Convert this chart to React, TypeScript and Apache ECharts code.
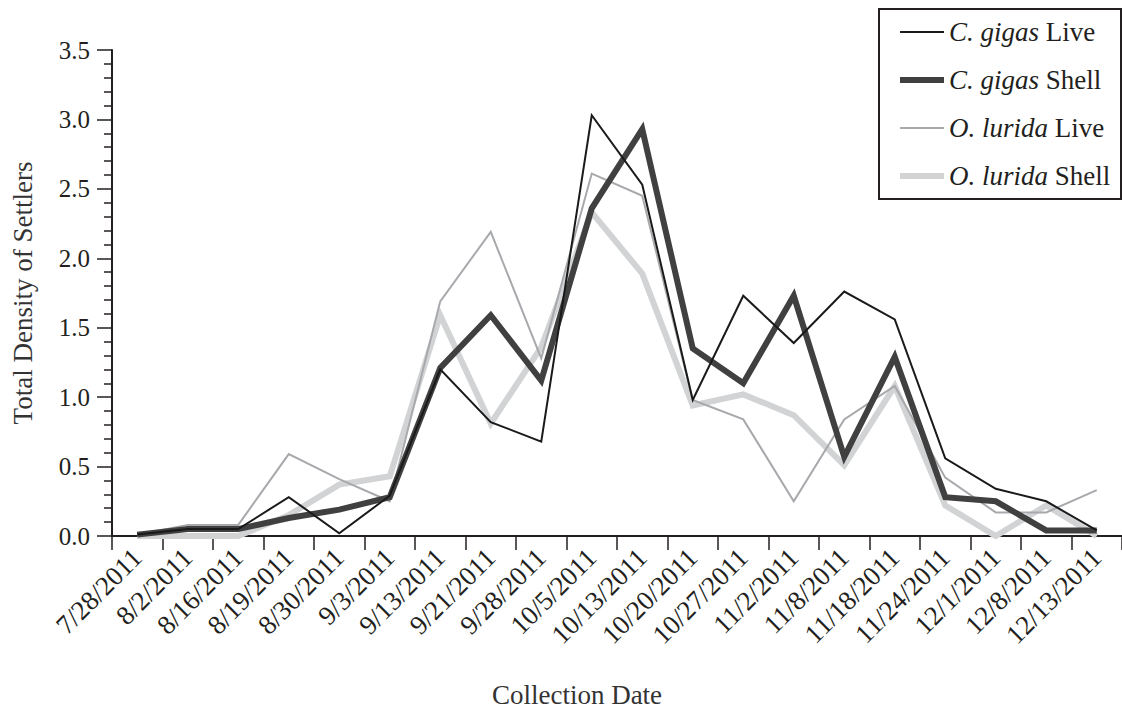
import React, { useEffect, useRef } from "react";
import * as echarts from "echarts";

const categories = [
  "7/28/2011", "8/2/2011", "8/16/2011", "8/19/2011", "8/30/2011", "9/3/2011",
  "9/13/2011", "9/21/2011", "9/28/2011", "10/5/2011", "10/13/2011", "10/20/2011",
  "10/27/2011", "11/2/2011", "11/8/2011", "11/18/2011", "11/24/2011", "12/1/2011",
  "12/8/2011", "12/13/2011",
];

const cgLive = [0.01, 0.05, 0.05, 0.28, 0.02, 0.29, 1.2, 0.82, 0.68, 3.03, 2.53, 0.98, 1.73, 1.39, 1.76, 1.56, 0.56, 0.34, 0.25, 0.04];
const cgShell = [0.01, 0.05, 0.05, 0.13, 0.19, 0.28, 1.21, 1.59, 1.12, 2.36, 2.93, 1.35, 1.1, 1.73, 0.57, 1.29, 0.28, 0.25, 0.04, 0.04];
const olLive = [0.01, 0.08, 0.08, 0.59, 0.41, 0.25, 1.69, 2.19, 1.28, 2.61, 2.45, 0.98, 0.84, 0.25, 0.84, 1.08, 0.42, 0.17, 0.17, 0.33];
const olShell = [0, 0, 0, 0.15, 0.37, 0.43, 1.59, 0.81, 1.36, 2.33, 1.89, 0.94, 1.02, 0.87, 0.51, 1.08, 0.22, 0, 0.22, 0];

const yTicks = [0, 0.5, 1, 1.5, 2, 2.5, 3, 3.5];

const seriesNames = ["C. gigas Live", "C. gigas Shell", "O. lurida Live", "O. lurida Shell"];
const seriesColors = ["#1a1a1a", "#404041", "#a7a9ac", "#d1d3d4"];
const seriesWidths = [2, 6, 2, 6];

const FONT = "'Liberation Serif', 'Times New Roman', serif";
const INK = "#231f20";

export default function App() {
  const ref = useRef<HTMLDivElement>(null);

  useEffect(() => {
    if (!ref.current) return;
    const chart = echarts.init(ref.current, undefined, { renderer: "svg" });
    const mk = (i: number, data: number[]) => ({
      name: seriesNames[i],
      type: "line",
      data,
      symbol: "none",
      lineStyle: { color: seriesColors[i], width: seriesWidths[i], join: "miter" },
      itemStyle: { color: seriesColors[i] },
    });
    chart.setOption({
      animation: false,
      backgroundColor: "#ffffff",
      textStyle: { fontFamily: FONT, color: INK },
      grid: { left: 112, right: 0, top: 50, bottom: 174, containLabel: false, outerBoundsMode: "none" },
      legend: {
        data: seriesNames.map((name, i) => ({
          name,
          lineStyle: { color: seriesColors[i], width: seriesWidths[i] },
          itemStyle: { color: "rgba(0,0,0,0)", borderWidth: 0, opacity: 0 },
        })),
        orient: "vertical",
        left: 897,
        top: 17,
        padding: 0,
        itemWidth: 44,
        itemHeight: 14,
        itemGap: 18,
        itemStyle: { color: "rgba(0,0,0,0)", borderWidth: 0, opacity: 0 },
        textStyle: {
          fontFamily: FONT,
          fontSize: 27,
          lineHeight: 30,
          color: INK,
          rich: {
            i: { fontFamily: FONT, fontSize: 27, fontStyle: "italic", color: INK },
            r: { fontFamily: FONT, fontSize: 27, color: INK },
          },
        },
        formatter: (name: string) => {
          const parts = name.split(" ");
          return `{i|${parts[0]} ${parts[1]}}{r| ${parts.slice(2).join(" ")}}`;
        },
      },
      graphic: [
        {
          type: "rect",
          shape: { x: 879, y: 9, width: 242, height: 190 },
          style: { fill: "none", stroke: INK, lineWidth: 2 },
          z: 10,
        },
      ],
      xAxis: {
        type: "category",
        data: categories,
        boundaryGap: true,
        name: "Collection Date",
        nameLocation: "middle",
        nameGap: 147,
        nameTextStyle: { fontFamily: FONT, fontSize: 27, lineHeight: 24, color: "#333", padding: [0, 80, 0, 0] },
        axisLine: { lineStyle: { color: INK, width: 2 } },
        axisTick: { show: true, length: 14, inside: false, alignWithLabel: false, lineStyle: { color: INK, width: 1.5 } },
        axisLabel: { interval: 0, rotate: 45, fontSize: 27, fontFamily: FONT, color: INK, margin: 17 },
        splitLine: { show: false },
      },
      yAxis: {
        type: "value",
        min: 0,
        max: 3.5,
        interval: 0.5,
        name: "Total Density of Settlers",
        nameLocation: "middle",
        nameGap: 76,
        nameRotate: 90,
        nameTextStyle: { fontFamily: FONT, fontSize: 27, color: "#333" },
        axisLine: { show: true, lineStyle: { color: INK, width: 2 } },
        axisTick: { show: true, length: 15, inside: false, lineStyle: { color: INK, width: 1.5 } },
        minorTick: { show: true, splitNumber: 5, length: 8, lineStyle: { color: INK, width: 1.5 } },
        axisLabel: {
          fontSize: 25,
          fontFamily: FONT,
          color: INK,
          margin: 22,
          formatter: (v: number) => (yTicks.includes(v) ? v.toFixed(1) : ""),
        },
        splitLine: { show: false },
      },
      series: [mk(3, olShell), mk(2, olLive), mk(1, cgShell), mk(0, cgLive)],
    });
    return () => chart.dispose();
  }, []);

  return (
    <div
      ref={ref}
      style={{ position: "fixed", left: 0, top: 0, width: 1122, height: 710, background: "#fff" }}
    />
  );
}
